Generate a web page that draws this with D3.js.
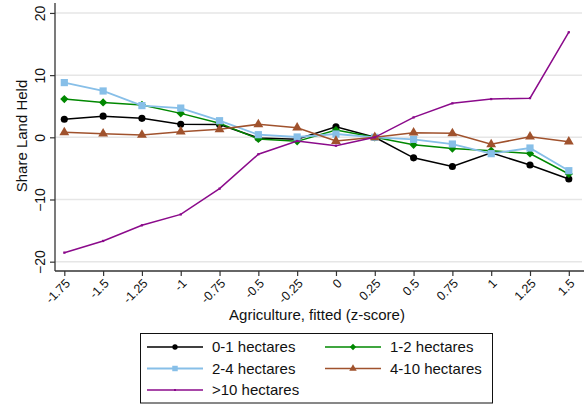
<!DOCTYPE html>
<html>
<head>
<meta charset="utf-8">
<script src="https://cdn.jsdelivr.net/npm/d3@7"></script>
<style>
  html, body { margin: 0; padding: 0; background: #fff; }
  svg { display: block; font-family: "Liberation Sans", Arial, Helvetica, sans-serif; }
</style>
</head>
<body>
<svg id="chart" width="584" height="404"></svg>
<script>
// z-score bins of fitted agriculture
const xValues = [-1.75, -1.5, -1.25, -1, -0.75, -0.5, -0.25, 0, 0.25, 0.5, 0.75, 1, 1.25, 1.5];
const xTickLabels = ["-1.75", "-1.5", "-1.25", "-1", "-0.75", "-0.5", "-0.25", "0", "0.25", "0.5", "0.75", "1", "1.25", "1.5"];
const yTicks = [-20, -10, 0, 10, 20];

// Share of land held, by farm size class
const seriesNames = ["0-1 hectares", "1-2 hectares", "2-4 hectares", "4-10 hectares", ">10 hectares"];
const ha0to1  = [2.9, 3.4, 3.05, 2.1, 2.05, -0.1, -0.3, 1.7, 0, -3.3, -4.7, -2.5, -4.45, -6.7];
const ha1to2  = [6.15, 5.6, 5.2, 3.85, 2.25, -0.27, -0.65, 1.17, 0, -1.2, -1.8, -2.15, -2.6, -5.9];
const ha2to4  = [8.8, 7.45, 5.1, 4.7, 2.67, 0.42, 0.05, 0.53, 0, -0.33, -1.08, -2.63, -1.72, -5.37];
const ha4to10 = [0.8, 0.58, 0.37, 0.9, 1.28, 2.09, 1.55, -0.6, 0, 0.74, 0.64, -1.13, 0.1, -0.7];
const haOver10 = [-18.55, -16.67, -14.15, -12.4, -8.26, -2.73, -0.6, -1.35, 0, 3.2, 5.46, 6.15, 6.3, 16.9];

const seriesValues = [ha0to1, ha1to2, ha2to4, ha4to10, haOver10];
const seriesColors = ["#000000", "#008800", "#87bfe8", "#a0522d", "#8b0a8b"];
// diamonds are squares turned by 45 degrees
const seriesSymbols = [d3.symbolCircle, d3.symbolSquare, d3.symbolSquare, d3.symbolTriangle, d3.symbolSquare];
const symbolRotation = [0, 45, 0, 0, 0];
const symbolSizes = [40, 34, 52, 42, 5];
const legendSymbolSizes = [22, 20, 30, 24, 4];

const svg = d3.select("#chart");
const plotLeft = 55, plotRight = 582, plotTop = 3, plotBottom = 271;

const x = d3.scaleLinear().domain([-1.81, 1.585]).range([plotLeft, plotRight]);
const y = d3.scaleLinear().domain([-21.5, 21.6]).range([plotBottom, plotTop]);

// horizontal grid
svg.append("g")
  .selectAll("line")
  .data(yTicks)
  .join("line")
  .attr("x1", plotLeft).attr("x2", plotRight)
  .attr("y1", d => y(d)).attr("y2", d => y(d))
  .attr("stroke", "#e6e6e6")
  .attr("stroke-width", 1.5);

// y axis
const yAxis = svg.append("g")
  .attr("transform", `translate(${plotLeft},0)`)
  .call(d3.axisLeft(y).tickValues(yTicks).tickSize(5).tickFormat(d3.format("d")));
yAxis.select(".domain").attr("stroke", "#333").attr("stroke-width", 1.3).attr("d", `M0,${plotTop}V${plotBottom}`);
yAxis.selectAll(".tick line").attr("stroke", "#333").attr("stroke-width", 1.2);
yAxis.selectAll(".tick text")
  .attr("x", null).attr("dy", null)
  .attr("transform", "translate(-10,0) rotate(-90)")
  .attr("text-anchor", "middle")
  .attr("font-size", 14)
  .attr("fill", "#111");

// x axis
const xAxis = svg.append("g")
  .attr("transform", `translate(0,${plotBottom})`)
  .call(d3.axisBottom(x).tickValues(xValues).tickSize(5).tickFormat((d, i) => xTickLabels[i]));
xAxis.select(".domain").attr("stroke", "#333").attr("stroke-width", 1.3).attr("d", `M${plotLeft},0H${plotRight + 2}`);
xAxis.selectAll(".tick line").attr("stroke", "#333").attr("stroke-width", 1.2);
xAxis.selectAll(".tick text")
  .attr("y", null).attr("dy", "0.35em")
  .attr("transform", "translate(3,10) rotate(-45)")
  .attr("text-anchor", "end")
  .attr("font-size", 12.5)
  .attr("fill", "#111");

// axis titles
svg.append("text")
  .attr("transform", `translate(27,136) rotate(-90)`)
  .attr("text-anchor", "middle")
  .attr("font-size", 15)
  .attr("fill", "#111")
  .text("Share Land Held");

svg.append("text")
  .attr("x", 317).attr("y", 320)
  .attr("text-anchor", "middle")
  .attr("font-size", 15)
  .attr("fill", "#111")
  .text("Agriculture, fitted (z-score)");

// series lines and markers
const line = d3.line().x((d, i) => x(xValues[i])).y(d => y(d));
seriesValues.forEach((vals, s) => {
  const g = svg.append("g");
  g.append("path")
    .datum(vals)
    .attr("d", line)
    .attr("fill", "none")
    .attr("stroke", seriesColors[s])
    .attr("stroke-width", s === 2 ? 1.8 : 1.5);
  g.selectAll("path.pt")
    .data(vals)
    .join("path")
    .attr("class", "pt")
    .attr("transform", (d, i) => `translate(${x(xValues[i])},${y(d)}) rotate(${symbolRotation[s]})`)
    .attr("d", d3.symbol().type(seriesSymbols[s]).size(symbolSizes[s]))
    .attr("fill", seriesColors[s]);
});

// legend
const legend = svg.append("g");
legend.append("rect")
  .attr("x", 140.5).attr("y", 333.5)
  .attr("width", 352).attr("height", 69.5)
  .attr("fill", "#fff")
  .attr("stroke", "#111")
  .attr("stroke-width", 1);

const legendPos = [[147, 347], [325, 347], [147, 368.5], [325, 368.5], [147, 390]];
seriesNames.forEach((name, s) => {
  const [lx, ly] = legendPos[s];
  legend.append("line")
    .attr("x1", lx).attr("x2", lx + 56)
    .attr("y1", ly).attr("y2", ly)
    .attr("stroke", seriesColors[s])
    .attr("stroke-width", s === 2 ? 2.2 : 1.5);
  legend.append("path")
    .attr("transform", `translate(${lx + 28},${ly}) rotate(${symbolRotation[s]})`)
    .attr("d", d3.symbol().type(seriesSymbols[s]).size(legendSymbolSizes[s]))
    .attr("fill", seriesColors[s]);
  legend.append("text")
    .attr("x", lx + 65).attr("y", ly)
    .attr("dy", "0.35em")
    .attr("font-size", 15)
    .attr("fill", "#111")
    .text(name);
});
</script>
</body>
</html>
